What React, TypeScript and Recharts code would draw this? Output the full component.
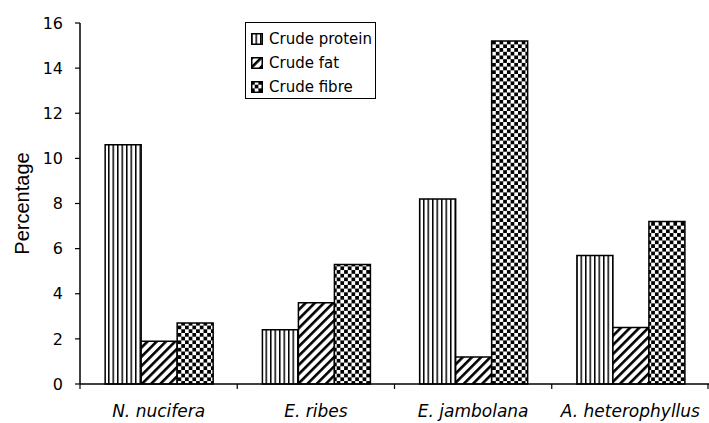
import React from 'react'
import { BarChart, Bar, XAxis, YAxis } from 'recharts'

const species = ['N. nucifera', 'E. ribes', 'E. jambolana', 'A. heterophyllus']
const crudeProtein = [10.6, 2.4, 8.2, 5.7]
const crudeFat = [1.9, 3.6, 1.2, 2.5]
const crudeFibre = [2.7, 5.3, 15.2, 7.2]
const yTicks = [0, 2, 4, 6, 8, 10, 12, 14, 16]

const series = [
  { key: 'protein', name: 'Crude protein', fill: 'url(#vlines)' },
  { key: 'fat', name: 'Crude fat', fill: 'url(#diag)' },
  { key: 'fibre', name: 'Crude fibre', fill: 'url(#checks)' },
]

const data = species.map((s, i) => ({
  species: s,
  protein: crudeProtein[i],
  fat: crudeFat[i],
  fibre: crudeFibre[i],
}))

const FONT = '"DejaVu Sans", sans-serif'
const BAND = 629 / species.length

// category ticks sit between bands, labels at centres
function SpeciesTick(props: any) {
  const { x, y, payload, index } = props
  const left = x - BAND / 2
  return (
    <g>
      <line x1={left} y1={y - 8} x2={left} y2={y - 3} stroke="#000" strokeWidth={1.2} />
      {index === species.length - 1 && (
        <line x1={x + BAND / 2 - 1} y1={y - 8} x2={x + BAND / 2 - 1} y2={y - 3} stroke="#000" strokeWidth={1.2} />
      )}
      <text x={x} y={y + 25} textAnchor="middle" fontStyle="italic" fontSize={17} fill="#000" fontFamily={FONT}>
        {payload.value}
      </text>
    </g>
  )
}

function LegendBox() {
  return (
    <div style={{
      position: 'absolute', left: 245, top: 22, width: 131, height: 77,
      border: '1.5px solid #000', background: '#fff', padding: '4px 0 0 5px',
      fontFamily: FONT, fontSize: 15, boxSizing: 'border-box',
    }}>
      {series.map(s => (
        <div key={s.key} style={{ display: 'flex', alignItems: 'center', height: 24 }}>
          <svg width={12} height={12} style={{ marginRight: 6 }}>
            <rect x={0.75} y={0.75} width={10.5} height={10.5} fill={s.fill} stroke="#000" strokeWidth={1.5} />
          </svg>
          <span>{s.name}</span>
        </div>
      ))}
    </div>
  )
}

export default function App() {
  return (
    <div style={{ position: 'absolute', left: 0, top: 0, width: 709, height: 423, background: '#fff' }}>
      <svg width={0} height={0} style={{ position: 'absolute' }}>
        <defs>
          <pattern id="vlines" patternUnits="userSpaceOnUse" width={4.5} height={10}>
            <rect width={4.5} height={10} fill="#fff" />
            <rect x={0} width={1.5} height={10} fill="#000" />
          </pattern>
          <pattern id="diag" patternUnits="userSpaceOnUse" width={6.5} height={6.5} patternTransform="rotate(45)">
            <rect width={6.5} height={6.5} fill="#fff" />
            <rect x={0} width={2.6} height={6.5} fill="#000" />
          </pattern>
          <pattern id="checks" patternUnits="userSpaceOnUse" width={7.4} height={7.4}>
            <rect width={7.4} height={7.4} fill="#fff" />
            <rect x={0} y={0} width={3.7} height={3.7} fill="#000" />
            <rect x={3.7} y={3.7} width={3.7} height={3.7} fill="#000" />
          </pattern>
        </defs>
      </svg>
      <BarChart
        width={709}
        height={423}
        data={data}
        margin={{ top: 23, right: 0, bottom: 0, left: 0 }}
        barCategoryGap="16%"
        barGap={0}
      >
        <XAxis
          dataKey="species"
          height={39}
          axisLine={{ stroke: '#000', strokeWidth: 1.5 }}
          tickLine={false}
          tick={<SpeciesTick />}
          interval={0}
        />
        <YAxis
          width={80}
          domain={[0, 16]}
          ticks={yTicks}
          axisLine={{ stroke: '#000', strokeWidth: 1.5 }}
          tickLine={{ stroke: '#000', strokeWidth: 1.2 }}
          tickSize={5}
          tickMargin={12}
          tick={{ fill: '#000', fontSize: 16, fontFamily: FONT }}
          label={{
            value: 'Percentage', angle: -90, position: 'insideLeft', offset: 22,
            style: { textAnchor: 'middle', fill: '#000', fontSize: 20, fontFamily: '"Liberation Sans", Arial, sans-serif' },
          }}
        />
        {series.map(s => (
          <Bar
            key={s.key}
            dataKey={s.key}
            name={s.name}
            fill={s.fill}
            stroke="#000"
            strokeWidth={1.5}
            isAnimationActive={false}
          />
        ))}
      </BarChart>
      <LegendBox />
    </div>
  )
}
